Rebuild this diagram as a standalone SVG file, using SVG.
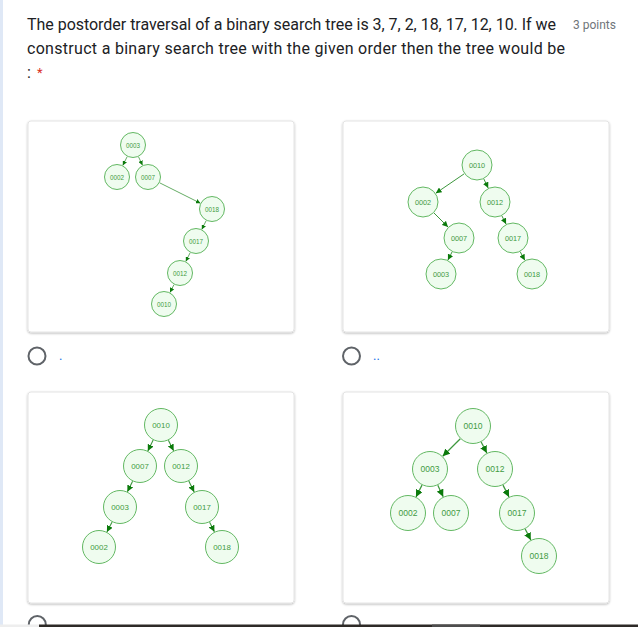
<svg xmlns="http://www.w3.org/2000/svg" width="638" height="627" viewBox="0 0 638 627">
<defs>
<style>
.q{font-family:Roboto,"Open Sans","Liberation Sans",sans-serif;font-size:16px;fill:#202124}
.pts{font-family:Roboto,"Liberation Sans",sans-serif;font-size:12px;fill:#70757a}
.card{fill:#fff;stroke:#e4e4e4;stroke-width:1;filter:url(#sh)}
.radio{fill:none;stroke:#5f6368;stroke-width:2}
.opt{font-family:Roboto,"Liberation Sans",sans-serif;font-size:13px;fill:#1a73e8}
.nd circle{fill:#effcef;stroke:#63b863;stroke-width:1}
.nd text{font-family:"Liberation Sans",Arial,sans-serif;fill:#3f9b3f;text-anchor:middle;dominant-baseline:central}
.p1 text{font-size:6.3px}
.p2 text{font-size:7.3px}
.p3 text{font-size:7.9px}
.p4 text{font-size:8.5px}
.edges line{stroke:#3d973d;marker-end:url(#arr)}
.e1 line{stroke-width:0.8}
.e2 line{stroke-width:1}
.e3 line{stroke-width:1.1}
.e4 line{stroke-width:1.25}
</style>
<filter id="sh" x="-5%" y="-5%" width="110%" height="115%">
<feDropShadow dx="0" dy="1" stdDeviation="0.8" flood-color="#000" flood-opacity="0.28"/>
</filter>
<marker id="arr" viewBox="0 0 10 10" refX="10" refY="5" markerWidth="5.8" markerHeight="5.8" orient="auto" markerUnits="strokeWidth">
<path d="M0,0 L10,5 L0,10 z" fill="#0b7a0b"/>
</marker>
</defs>
<rect x="0" y="0" width="638" height="627" fill="#fff"/>
<rect x="0" y="0" width="3" height="627" fill="#dfe8f6"/>

<g id="question">
<text class="q" x="27" y="30" textLength="529" lengthAdjust="spacing">The postorder traversal of a binary search tree is 3, 7, 2, 18, 17, 12, 10. If we</text>
<text class="pts" x="573" y="29">3 points</text>
<text class="q" x="27" y="54" textLength="538" lengthAdjust="spacing">construct a binary search tree with the given order then the tree would be</text>
<text class="q" x="27" y="78">:<tspan fill="#d93025" font-size="13" dx="3" dy="-1"> *</tspan></text>
</g>

<g id="cards">
<rect class="card" x="28" y="121" width="266" height="211" rx="3"/>
<rect class="card" x="343" y="121" width="266" height="211" rx="3"/>
<rect class="card" x="28" y="392" width="266" height="211" rx="3"/>
<rect class="card" x="343" y="392" width="266" height="211" rx="3"/>
</g>

<g id="options">
<circle class="radio" cx="37" cy="356" r="8.5"/>
<text class="opt" x="59" y="360">.</text>
<circle class="radio" cx="351.5" cy="356" r="8.5"/>
<text class="opt" x="373" y="360">..</text>
<circle class="radio" cx="37.3" cy="624.5" r="8.5"/>
<circle class="radio" cx="351.5" cy="624.5" r="8.5"/>
</g>

<g id="connectors" class="edges">
<g class="e1">
<line x1="127.2" y1="156.6" x2="122.8" y2="165.4"/>
<line x1="138.5" y1="156.8" x2="142.5" y2="165.2"/>
<line x1="159.6" y1="182.8" x2="200.4" y2="203.2"/>
<line x1="206.2" y1="220.6" x2="201.8" y2="229.4"/>
<line x1="190.2" y1="252.6" x2="185.8" y2="261.4"/>
<line x1="174" y1="284.6" x2="170" y2="292.4"/>
</g>
<g class="e2">
<line x1="464.2" y1="173.8" x2="435.8" y2="193.2"/>
<line x1="483.8" y1="178.9" x2="488.2" y2="188.1"/>
<line x1="434" y1="213" x2="448" y2="227"/>
<line x1="501.9" y1="215.9" x2="506.1" y2="224.1"/>
<line x1="452.1" y1="251.9" x2="447.9" y2="260.1"/>
<line x1="520.2" y1="251.7" x2="524.8" y2="260.3"/>
</g>
<g class="e3">
<line x1="153.2" y1="440.1" x2="147.8" y2="450.9"/>
<line x1="168.4" y1="440.3" x2="173.6" y2="450.7"/>
<line x1="132.6" y1="481.3" x2="127.4" y2="491.7"/>
<line x1="188.8" y1="481.1" x2="194.2" y2="491.9"/>
<line x1="112.1" y1="522.1" x2="106.9" y2="531.9"/>
<line x1="209.6" y1="522.2" x2="214.4" y2="531.8"/>
</g>
<g class="e4">
<line x1="460.3" y1="438.7" x2="442.7" y2="456.3"/>
<line x1="481.2" y1="442" x2="486.8" y2="453"/>
<line x1="422" y1="485.1" x2="416" y2="496.9"/>
<line x1="437.8" y1="485.3" x2="443.2" y2="496.7"/>
<line x1="503" y1="485.1" x2="509" y2="496.9"/>
<line x1="525.2" y1="529" x2="530.8" y2="540"/>
</g>
</g>

<g id="tree1" class="p1">
<g id="a-0003" class="nd"><circle cx="133" cy="145" r="12.5"/><text x="133" y="145">0003</text></g>
<g id="a-0002" class="nd"><circle cx="117" cy="177" r="12.5"/><text x="117" y="177">0002</text></g>
<g id="a-0007" class="nd"><circle cx="148" cy="177" r="12.5"/><text x="148" y="177">0007</text></g>
<g id="a-0018" class="nd"><circle cx="212" cy="209" r="12.5"/><text x="212" y="209">0018</text></g>
<g id="a-0017" class="nd"><circle cx="196" cy="241" r="12.5"/><text x="196" y="241">0017</text></g>
<g id="a-0012" class="nd"><circle cx="180" cy="273" r="12.5"/><text x="180" y="273">0012</text></g>
<g id="a-0010" class="nd"><circle cx="164" cy="304" r="12.5"/><text x="164" y="304">0010</text></g>
</g>

<g id="tree2" class="p2">
<g id="b-0010" class="nd"><circle cx="477" cy="165" r="15"/><text x="477" y="165">0010</text></g>
<g id="b-0002" class="nd"><circle cx="423" cy="202" r="15"/><text x="423" y="202">0002</text></g>
<g id="b-0012" class="nd"><circle cx="495" cy="202" r="15"/><text x="495" y="202">0012</text></g>
<g id="b-0007" class="nd"><circle cx="459" cy="238" r="15"/><text x="459" y="238">0007</text></g>
<g id="b-0017" class="nd"><circle cx="513" cy="238" r="15"/><text x="513" y="238">0017</text></g>
<g id="b-0003" class="nd"><circle cx="441" cy="274" r="15"/><text x="441" y="274">0003</text></g>
<g id="b-0018" class="nd"><circle cx="532" cy="274" r="15"/><text x="532" y="274">0018</text></g>
</g>

<g id="tree3" class="p3">
<g id="c-0010" class="nd"><circle cx="161" cy="425" r="16.5"/><text x="161" y="425">0010</text></g>
<g id="c-0007" class="nd"><circle cx="140" cy="466" r="16.5"/><text x="140" y="466">0007</text></g>
<g id="c-0012" class="nd"><circle cx="181" cy="466" r="16.5"/><text x="181" y="466">0012</text></g>
<g id="c-0003" class="nd"><circle cx="120" cy="507" r="16.5"/><text x="120" y="507">0003</text></g>
<g id="c-0017" class="nd"><circle cx="202" cy="507" r="16.5"/><text x="202" y="507">0017</text></g>
<g id="c-0002" class="nd"><circle cx="99" cy="547" r="16.5"/><text x="99" y="547">0002</text></g>
<g id="c-0018" class="nd"><circle cx="222" cy="547" r="16.5"/><text x="222" y="547">0018</text></g>
</g>

<g id="tree4" class="p4">
<g id="d-0010" class="nd"><circle cx="473" cy="426" r="17.5"/><text x="473" y="426">0010</text></g>
<g id="d-0003" class="nd"><circle cx="430" cy="469" r="17.5"/><text x="430" y="469">0003</text></g>
<g id="d-0012" class="nd"><circle cx="495" cy="469" r="17.5"/><text x="495" y="469">0012</text></g>
<g id="d-0002" class="nd"><circle cx="408" cy="513" r="17.5"/><text x="408" y="513">0002</text></g>
<g id="d-0007" class="nd"><circle cx="451" cy="513" r="17.5"/><text x="451" y="513">0007</text></g>
<g id="d-0017" class="nd"><circle cx="517" cy="513" r="17.5"/><text x="517" y="513">0017</text></g>
<g id="d-0018" class="nd"><circle cx="539" cy="556" r="17.5"/><text x="539" y="556">0018</text></g>
</g>

<g id="bottom-bar">
<rect x="0" y="624.5" width="39" height="2.5" fill="#eeeeee"/>
<rect x="39" y="624.5" width="599" height="2.5" fill="#2e2a27"/>
<rect x="432" y="624.5" width="48" height="2.5" fill="#4d4d4d"/>
</g>
</svg>
